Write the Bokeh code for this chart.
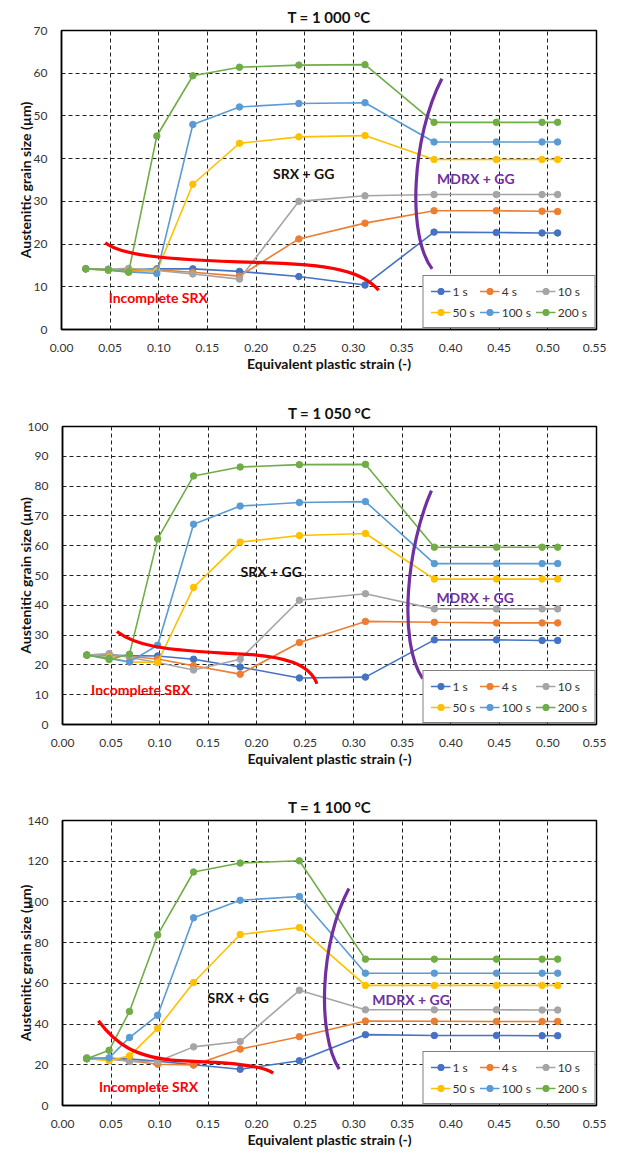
from bokeh.plotting import figure
from bokeh.layouts import column, row
from bokeh.models import Range1d, FixedTicker, PrintfTickFormatter, Legend, LegendItem, Label, Spacer
from bokeh.embed import file_html
from bokeh.resources import INLINE

FONT = "Lato"

# ---------------- data ----------------
strain = [0.025, 0.048, 0.069, 0.098, 0.135, 0.183, 0.244, 0.312, 0.383, 0.447, 0.494, 0.510]
times = ["1 s", "4 s", "10 s", "50 s", "100 s", "200 s"]
colors = ["#4472C4", "#ED7D31", "#A5A5A5", "#FFC000", "#5B9BD5", "#70AD47"]

# T = 1000 C
t1000_1s = [14.2, 14.1, 14.0, 14.2, 14.2, 13.6, 12.4, 10.4, 22.8, 22.7, 22.6, 22.6]
t1000_4s = [14.2, 14.0, 13.8, 14.0, 13.4, 12.5, 21.2, 24.9, 27.8, 27.8, 27.7, 27.6]
t1000_10s = [14.2, 14.1, 14.3, 13.8, 13.0, 11.8, 30.0, 31.3, 31.6, 31.6, 31.6, 31.6]
t1000_50s = [14.2, 14.0, 13.6, 13.6, 34.0, 43.6, 45.1, 45.4, 39.8, 39.8, 39.8, 39.8]
t1000_100s = [14.2, 14.0, 13.5, 13.1, 48.0, 52.1, 52.9, 53.1, 43.9, 43.9, 43.9, 43.9]
t1000_200s = [14.2, 13.9, 13.4, 45.3, 59.4, 61.4, 61.9, 62.0, 48.5, 48.5, 48.5, 48.5]

# T = 1050 C
t1050_1s = [23.3, 23.2, 23.1, 23.0, 21.9, 19.3, 15.6, 15.9, 28.4, 28.4, 28.2, 28.2]
t1050_4s = [23.3, 23.2, 22.8, 22.0, 19.7, 16.9, 27.5, 34.6, 34.3, 34.1, 34.1, 34.1]
t1050_10s = [23.3, 23.8, 22.5, 20.8, 18.3, 21.9, 41.7, 43.9, 38.8, 38.8, 38.8, 38.8]
t1050_50s = [23.3, 22.5, 21.0, 20.8, 46.0, 61.2, 63.4, 64.1, 48.8, 48.8, 48.8, 48.8]
t1050_100s = [23.3, 22.2, 21.0, 26.6, 67.2, 73.3, 74.5, 74.8, 54.0, 54.0, 54.0, 54.0]
t1050_200s = [23.3, 21.8, 23.6, 62.3, 83.4, 86.4, 87.2, 87.3, 59.5, 59.5, 59.5, 59.5]

# T = 1100 C
t1100_1s = [23.0, 23.2, 22.8, 21.8, 20.0, 17.8, 22.0, 34.8, 34.4, 34.4, 34.3, 34.3]
t1100_4s = [23.0, 22.8, 22.0, 20.3, 19.9, 27.7, 33.8, 41.5, 41.4, 41.3, 41.3, 41.3]
t1100_10s = [23.5, 23.0, 21.6, 21.6, 28.8, 31.4, 56.6, 47.0, 47.0, 47.0, 46.9, 46.9]
t1100_50s = [23.0, 22.0, 24.4, 37.9, 60.4, 84.0, 87.4, 59.0, 59.0, 59.0, 59.0, 59.0]
t1100_100s = [23.0, 23.4, 33.4, 44.3, 92.2, 100.8, 102.7, 65.0, 65.0, 65.0, 65.0, 65.0]
t1100_200s = [23.0, 27.1, 46.2, 83.8, 114.7, 119.1, 120.2, 71.9, 71.9, 71.9, 71.9, 71.9]

x_ticks = [0.0, 0.05, 0.10, 0.15, 0.20, 0.25, 0.30, 0.35, 0.40, 0.45, 0.50, 0.55]
y_ticks_1000 = [0, 10, 20, 30, 40, 50, 60, 70]
y_ticks_1050 = [0, 10, 20, 30, 40, 50, 60, 70, 80, 90, 100]
y_ticks_1100 = [0, 20, 40, 60, 80, 100, 120, 140]

# region annotations (cubic bezier segments: x0,y0,cx0,cy0,cx1,cy1,x1,y1)
red_1000 = [(0.045, 20.3, 0.060, 17.5, 0.100, 16.4, 0.200, 15.7),
            (0.200, 15.7, 0.280, 15.3, 0.310, 13.5, 0.326, 9.2)]
purple_1000 = [(0.391, 58.7, 0.360, 45.0, 0.355, 22.0, 0.381, 14.2)]
red_1050 = [(0.056, 31.2, 0.075, 26.5, 0.100, 25.0, 0.180, 23.7),
            (0.180, 23.7, 0.230, 23.2, 0.255, 20.0, 0.262, 13.7)]
purple_1050 = [(0.380, 78.5, 0.355, 60.0, 0.345, 28.0, 0.371, 15.4)]
red_1100 = [(0.037, 41.6, 0.055, 30.0, 0.075, 23.5, 0.120, 22.0),
            (0.120, 22.0, 0.170, 21.0, 0.205, 20.0, 0.217, 15.9)]
purple_1100 = [(0.295, 106.6, 0.265, 80.0, 0.262, 35.0, 0.285, 17.9)]

labels_1000 = [(0.249, 36.6), (0.426, 35.4), (0.0995, 7.6)]
labels_1050 = [(0.215, 51.5), (0.425, 42.5), (0.0806, 11.6)]
labels_1100 = [(0.181, 53.0), (0.359, 51.9), (0.0886, 9.3)]

LEFT_PAD = 13
FIG_W = 606 - LEFT_PAD


def make_panel(title, ymax, yticks, series, reds, purples, lab_pos, height, bottom, ylab_standoff):
    p = figure(width=FIG_W, height=height, output_backend="svg", toolbar_location=None,
               x_range=Range1d(0, 0.55), y_range=Range1d(0, ymax),
               min_border_left=44, min_border_right=10, min_border_top=24, min_border_bottom=bottom)
    p.title.text = title
    p.title.align = "center"
    p.title.text_font = FONT
    p.title.text_font_size = "15px"
    p.title.text_font_style = "bold"
    p.title.text_color = "#111111"

    p.outline_line_color = "black"
    p.outline_line_width = 1.5
    p.background_fill_color = "white"

    for g in (p.xgrid, p.ygrid):
        g.grid_line_color = "#222222"
        g.grid_line_dash = "4 3"
        g.grid_line_width = 1
    p.xaxis.ticker = FixedTicker(ticks=x_ticks)
    p.yaxis.ticker = FixedTicker(ticks=yticks)
    p.xaxis.formatter = PrintfTickFormatter(format="%.2f")

    for ax in (p.xaxis, p.yaxis):
        ax.axis_line_color = "black"
        ax.axis_line_width = 1.5
        ax.major_tick_line_color = None
        ax.minor_tick_line_color = None
        ax.major_label_text_font = FONT
        ax.major_label_text_font_size = "12px"
        ax.major_label_text_color = "#333333"
        ax.axis_label_text_font = FONT
        ax.axis_label_text_font_size = "14px"
        ax.axis_label_text_font_style = "bold"
        ax.axis_label_text_color = "#111111"
    p.xaxis.axis_label = "Equivalent plastic strain (-)"
    p.yaxis.axis_label = "Austenitic grain size (\u00b5m)"
    p.xaxis.major_label_standoff = 8
    p.xaxis.axis_label_standoff = 0
    p.xaxis.major_label_text_line_height = 1.0
    p.xaxis.axis_label_text_line_height = 1.0
    p.yaxis.major_label_standoff = 8
    p.yaxis.axis_label_standoff = ylab_standoff

    items = []
    for name, col, ys in zip(times, colors, series):
        lr = p.line(strain, ys, line_color=col, line_width=1.6)
        sr = p.scatter(strain, ys, marker="circle", size=6.5, fill_color=col, line_color=col)
        items.append(LegendItem(label=name, renderers=[lr, sr]))

    for seg in reds:
        x0, y0, cx0, cy0, cx1, cy1, x1, y1 = seg
        p.bezier(x0=[x0], y0=[y0], cx0=[cx0], cy0=[cy0], cx1=[cx1], cy1=[cy1], x1=[x1], y1=[y1],
                 line_color="#FF0000", line_width=3.2)
    for seg in purples:
        x0, y0, cx0, cy0, cx1, cy1, x1, y1 = seg
        p.bezier(x0=[x0], y0=[y0], cx0=[cx0], cy0=[cy0], cx1=[cx1], cy1=[cy1], x1=[x1], y1=[y1],
                 line_color="#7030A0", line_width=3.2)

    texts = ["SRX + GG", "MDRX + GG", "Incomplete SRX"]
    tcols = ["#111111", "#7030A0", "#FF0000"]
    for (lx, ly), t, c in zip(lab_pos, texts, tcols):
        p.add_layout(Label(x=lx, y=ly, text=t, text_color=c, text_font=FONT, text_font_size="14px",
                           text_font_style="bold", text_align="center", text_baseline="middle"))

    legend = Legend(items=items, location="bottom_right", orientation="horizontal", ncols=3,
                    border_line_color="black", border_line_width=1, background_fill_alpha=1,
                    label_text_font=FONT, label_text_font_size="12px", label_text_color="#333333",
                    glyph_width=20, glyph_height=16, label_standoff=2, spacing=5, padding=7,
                    margin=1, label_height=16)
    p.add_layout(legend)
    return p


H1, H2, H3 = 396, 394, 360
p1 = make_panel("T = 1 000 \u00b0C", 70, y_ticks_1000,
                [t1000_1s, t1000_4s, t1000_10s, t1000_50s, t1000_100s, t1000_200s],
                red_1000, purple_1000, labels_1000, H1, 67, -3)
p2 = make_panel("T = 1 050 \u00b0C", 100, y_ticks_1050,
                [t1050_1s, t1050_4s, t1050_10s, t1050_50s, t1050_100s, t1050_200s],
                red_1050, purple_1050, labels_1050, H2, 66, -9)
p3 = make_panel("T = 1 100 \u00b0C", 140, y_ticks_1100,
                [t1100_1s, t1100_4s, t1100_10s, t1100_50s, t1100_100s, t1100_200s],
                red_1100, purple_1100, labels_1100, H3, 30, -9)

layout = column(row(Spacer(width=LEFT_PAD, height=H1), p1),
                row(Spacer(width=LEFT_PAD, height=H2), p2),
                row(Spacer(width=LEFT_PAD, height=H3), p3), spacing=0)
open("out.html", "w").write(file_html(layout, INLINE))
